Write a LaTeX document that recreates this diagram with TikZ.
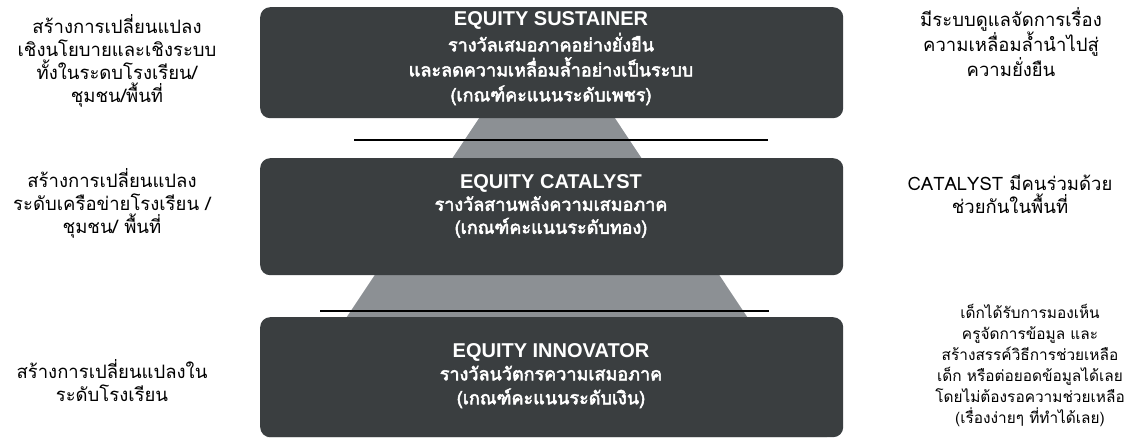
\documentclass[tikz,border=0pt]{standalone}
\usepackage{fontspec}
\newfontfamily\thai[Script=Thai]{Loma}
\newfontfamily\thaibold[Script=Thai,FakeBold=3]{Loma}
\newfontfamily\titlefont{Liberation Sans}
\definecolor{boxgray}{RGB}{58,62,64}
\definecolor{pyrgray}{RGB}{140,144,148}
\begin{document}
\begin{tikzpicture}[x=1pt,y=-1pt,
  box/.style={fill=boxgray, draw=none, rounded corners=10pt, minimum width=583pt, anchor=north west, inner sep=0pt},
  boxtitle/.style={text=white, font=\titlefont\bfseries\fontsize{20}{22}\selectfont, inner sep=0pt},
  boxtext/.style={text=white, align=center, inner sep=0pt},
  side/.style={align=center, text=black, inner sep=0pt},
  rule/.style={line width=2pt, black}
]
\useasboundingbox (0,0) rectangle (1132,441);
\fill[white] (0,0) rectangle (1132,441);
% pyramid
\fill[pyrgray] (547,16) -- (267,437) -- (827,437) -- cycle;
% lines
\coordinate (l1a) at (354,140); \coordinate (l1b) at (768,140);
\coordinate (l2a) at (320,311); \coordinate (l2b) at (769,311);
\draw[rule] (l1a) -- (l1b);
\draw[rule] (l2a) -- (l2b);
% boxes
\node[box, minimum height=111pt] (b1) at (260,7) {};
\node[box, minimum height=117pt] (b2) at (260,158) {};
\node[box, minimum height=120pt] (b3) at (260,317) {};
% box texts
\node[boxtitle] (t1) at (551,20) {EQUITY SUSTAINER};
\node[boxtext, font=\thaibold\fontsize{18}{25}\selectfont] (d1) at (551,69) {รางวัลเสมอภาคอย่างยั่งยืน\\และลดความเหลื่อมล้ำอย่างเป็นระบบ\\(เกณฑ์คะแนนระดับเพชร)};
\node[boxtitle] (t2) at (551,183) {EQUITY CATALYST};
\node[boxtext, font=\thaibold\fontsize{18}{23}\selectfont] (d2) at (551,217) {รางวัลสานพลังความเสมอภาค\\(เกณฑ์คะแนนระดับทอง)};
\node[boxtitle] (t3) at (551,352) {EQUITY INNOVATOR};
\node[boxtext, font=\thaibold\fontsize{18}{24}\selectfont] (d3) at (551,387) {รางวัลนวัตกรความเสมอภาค\\(เกณฑ์คะแนนระดับเงิน)};
% left texts
\node[side, font=\thai\fontsize{18.5}{23}\selectfont] (L1) at (117,61) {สร้างการเปลี่ยนแปลง\\เชิงนโยบายและเชิงระบบ\\ทั้งในระดบโรงเรียน/\\ชุมชน/พื้นที่};
\node[side, font=\thai\fontsize{18.5}{23}\selectfont] (L2) at (112,203) {สร้างการเปลี่ยนแปลง\\ระดับเครือข่ายโรงเรียน /\\ชุมชน/ พื้นที่};
\node[side, font=\thai\fontsize{18.5}{23}\selectfont] (L3) at (112,381) {สร้างการเปลี่ยนแปลงใน\\ระดับโรงเรียน};
% right texts
\node[side, font=\thai\fontsize{18.5}{23}\selectfont] (R1) at (1011,42) {มีระบบดูแลจัดการเรื่อง\\ความเหลื่อมล้ำนำไปสู่\\ความยั่งยืน};
\node[side, font=\thai\fontsize{18.5}{23}\selectfont] (R2) at (1010,194) {CATALYST มีคนร่วมด้วย\\ช่วยกันในพื้นที่};
\node[side, font=\thai\fontsize{15.4}{21}\selectfont] (R3) at (1030,365) {เด็กได้รับการมองเห็น\\ครูจัดการข้อมูล และ\\สร้างสรรค์วิธีการช่วยเหลือ\\เด็ก หรือต่อยอดข้อมูลได้เลย\\โดยไม่ต้องรอความช่วยเหลือ\\(เรื่องง่ายๆ ที่ทำได้เลย)};
\end{tikzpicture}
\end{document}
